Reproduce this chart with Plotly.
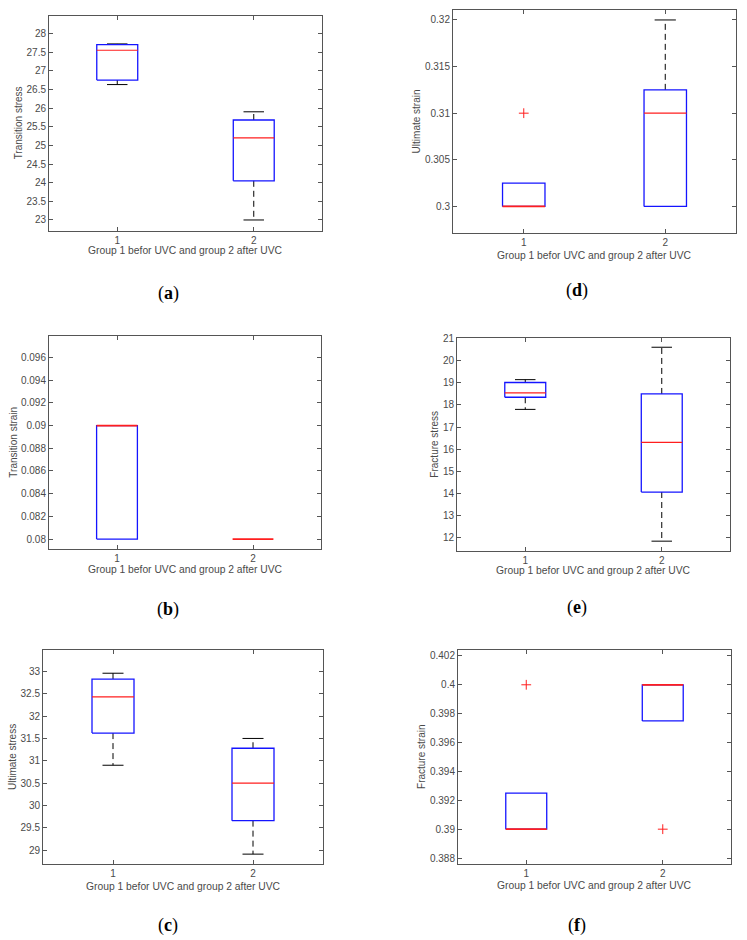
import plotly.graph_objects as go

W, H = 747, 940
XLABEL = "Group 1 befor UVC and group 2 after UVC"
groups = [1, 2]
group_labels = ["1", "2"]

# (a) Transition stress
ts_q1 = [26.75, 24.05]; ts_med = [27.55, 25.20]; ts_q3 = [27.70, 25.68]
ts_lo = [26.63, 23.00]; ts_hi = [27.72, 25.90]; ts_out = [[], []]
ts_ticks = [23, 23.5, 24, 24.5, 25, 25.5, 26, 26.5, 27, 27.5, 28]
ts_ticktext = ["23", "23.5", "24", "24.5", "25", "25.5", "26", "26.5", "27", "27.5", "28"]

# (b) Transition strain
tn_q1 = [0.080, 0.080]; tn_med = [0.090, 0.080]; tn_q3 = [0.090, 0.080]
tn_lo = [0.080, 0.080]; tn_hi = [0.090, 0.080]; tn_out = [[], []]
tn_ticks = [0.080, 0.082, 0.084, 0.086, 0.088, 0.090, 0.092, 0.094, 0.096]
tn_ticktext = ["0.08", "0.082", "0.084", "0.086", "0.088", "0.09", "0.092", "0.094", "0.096"]

# (c) Ultimate stress
us_q1 = [31.62, 29.66]; us_med = [32.43, 30.50]; us_q3 = [32.83, 31.28]
us_lo = [30.90, 28.91]; us_hi = [32.96, 31.50]; us_out = [[], []]
us_ticks = [29, 29.5, 30, 30.5, 31, 31.5, 32, 32.5, 33]
us_ticktext = ["29", "29.5", "30", "30.5", "31", "31.5", "32", "32.5", "33"]

# (d) Ultimate strain
un_q1 = [0.300, 0.300]; un_med = [0.300, 0.310]; un_q3 = [0.3025, 0.3125]
un_lo = [0.300, 0.300]; un_hi = [0.3025, 0.320]; un_out = [[0.310], []]
un_ticks = [0.300, 0.305, 0.310, 0.315, 0.320]
un_ticktext = ["0.3", "0.305", "0.31", "0.315", "0.32"]

# (e) Fracture stress
fs_q1 = [18.35, 14.05]; fs_med = [18.55, 16.30]; fs_q3 = [19.02, 18.50]
fs_lo = [17.80, 11.82]; fs_hi = [19.15, 20.62]; fs_out = [[], []]
fs_ticks = [12, 13, 14, 15, 16, 17, 18, 19, 20, 21]
fs_ticktext = ["12", "13", "14", "15", "16", "17", "18", "19", "20", "21"]

# (f) Fracture strain
fn_q1 = [0.390, 0.3975]; fn_med = [0.390, 0.400]; fn_q3 = [0.3925, 0.400]
fn_lo = [0.390, 0.3975]; fn_hi = [0.3925, 0.400]; fn_out = [[0.400], [0.390]]
fn_ticks = [0.388, 0.390, 0.392, 0.394, 0.396, 0.398, 0.400, 0.402]
fn_ticktext = ["0.388", "0.39", "0.392", "0.394", "0.396", "0.398", "0.4", "0.402"]

panels = [
    # letter, ylabel, stats, yrange, ticks, ticktext, plot box px (l, r, t, b), ytitle x px, xtitle y px, label (x, y) px
    ("a", "Transition stress", (ts_q1, ts_med, ts_q3, ts_lo, ts_hi, ts_out), [22.71, 28.47], ts_ticks, ts_ticktext,
     (49, 322, 11, 227), 18, 247, (168, 290)),
    ("d", "Ultimate strain", (un_q1, un_med, un_q3, un_lo, un_hi, un_out), [0.29717, 0.32107], un_ticks, un_ticktext,
     (453, 736, 5, 229), 416, 252, (577, 287)),
    ("b", "Transition strain", (tn_q1, tn_med, tn_q3, tn_lo, tn_hi, tn_out), [0.07912, 0.09787], tn_ticks, tn_ticktext,
     (49, 321, 333, 547), 14, 568, (168, 608)),
    ("e", "Fracture stress", (fs_q1, fs_med, fs_q3, fs_lo, fs_hi, fs_out), [11.37, 21.03], fs_ticks, fs_ticktext,
     (457, 730, 335, 549), 435, 569, (577, 606)),
    ("c", "Ultimate stress", (us_q1, us_med, us_q3, us_lo, us_hi, us_out), [28.68, 33.49], us_ticks, us_ticktext,
     (43, 323, 648, 864), 13, 886, (168, 925)),
    ("f", "Fracture strain", (fn_q1, fn_med, fn_q3, fn_lo, fn_hi, fn_out), [0.38756, 0.40244], fn_ticks, fn_ticktext,
     (458, 731, 648, 864), 422, 885, (577, 925)),
]

BOX_HALF = 0.15
CAP_HALF = 0.075
BLUE = "rgb(20,20,255)"
RED = "rgb(255,30,30)"
AXC = "#555555"
TXT = "#4a4a4a"
FONT = "Liberation Sans, Arial, sans-serif"

fig = go.Figure()
annotations = []

for i, (letter, ylabel, stats, yr, tv, tt, (l, r, t, b), ytx, xty, (lx, ly)) in enumerate(panels):
    n = i + 1
    xa = "x" if n == 1 else f"x{n}"
    ya = "y" if n == 1 else f"y{n}"
    q1, med, q3, lo, hi, outs = stats
    for g, gx in enumerate(groups):
        # whiskers (dashed black) and caps, only where the whisker extends beyond the box
        for a, z in ((q3[g], hi[g]), (q1[g], lo[g])):
            if abs(z - a) < 1e-12:
                continue
            fig.add_trace(go.Scatter(x=[gx, gx], y=[a, z], mode="lines", xaxis=xa, yaxis=ya,
                                     line=dict(color="black", width=1, dash="6px,4px"),
                                     showlegend=False, hoverinfo="skip"))
            fig.add_trace(go.Scatter(x=[gx - CAP_HALF, gx + CAP_HALF], y=[z, z], mode="lines",
                                     xaxis=xa, yaxis=ya, line=dict(color="black", width=1),
                                     showlegend=False, hoverinfo="skip"))
        # box
        if abs(q3[g] - q1[g]) > 1e-12:
            fig.add_trace(go.Scatter(x=[gx - BOX_HALF, gx + BOX_HALF, gx + BOX_HALF, gx - BOX_HALF, gx - BOX_HALF],
                                     y=[q1[g], q1[g], q3[g], q3[g], q1[g]], mode="lines",
                                     xaxis=xa, yaxis=ya, line=dict(color=BLUE, width=1.3),
                                     showlegend=False, hoverinfo="skip"))
        # median (slightly wider so it fully covers a coinciding box edge)
        on_edge = abs(med[g] - q1[g]) < 1e-12 or abs(med[g] - q3[g]) < 1e-12
        fig.add_trace(go.Scatter(x=[gx - BOX_HALF, gx + BOX_HALF], y=[med[g], med[g]], mode="lines",
                                 xaxis=xa, yaxis=ya, line=dict(color=RED, width=1.8 if on_edge else 1.2),
                                 showlegend=False, hoverinfo="skip"))
        # outliers
        if outs[g]:
            fig.add_trace(go.Scatter(x=[gx] * len(outs[g]), y=outs[g], mode="markers",
                                     xaxis=xa, yaxis=ya,
                                     marker=dict(symbol="cross-thin", size=7,
                                                 line=dict(color=RED, width=1)),
                                     showlegend=False, hoverinfo="skip"))

    xdom = [l / W, r / W]
    ydom = [1 - b / H, 1 - t / H]
    common = dict(showline=True, linecolor=AXC, linewidth=1, mirror="ticks", ticks="inside",
                  ticklen=4, tickcolor=AXC, tickwidth=1, showgrid=False, zeroline=False,
                  tickfont=dict(family=FONT, size=10, color=TXT))
    fig.layout[f"xaxis{'' if n == 1 else n}"] = dict(
        domain=xdom, anchor=ya, range=[0.5, 2.5], tickmode="array", tickvals=groups,
        ticktext=group_labels, **common)
    fig.layout[f"yaxis{'' if n == 1 else n}"] = dict(
        domain=ydom, anchor=xa, range=yr, tickmode="array", tickvals=tv, ticktext=tt, **common)

    annotations.append(dict(text=XLABEL, x=(l + r) / 2 / W, y=1 - xty / H, xref="paper", yref="paper",
                            showarrow=False, xanchor="center", yanchor="middle",
                            font=dict(family=FONT, size=10.3, color=TXT)))
    annotations.append(dict(text=ylabel, x=ytx / W, y=1 - (t + b) / 2 / H, xref="paper", yref="paper",
                            showarrow=False, xanchor="center", yanchor="middle", textangle=-90,
                            font=dict(family=FONT, size=10, color=TXT)))
    annotations.append(dict(text=f"(<b>{letter}</b>)", x=lx / W, y=1 - ly / H, xref="paper", yref="paper",
                            showarrow=False, xanchor="center", yanchor="middle",
                            font=dict(family="Liberation Serif, Times New Roman, serif", size=18, color="black")))

fig.update_layout(width=W, height=H, margin=dict(l=0, r=0, t=0, b=0),
                  paper_bgcolor="white", plot_bgcolor="white", annotations=annotations,
                  showlegend=False)

fig.write_html("out.html")
